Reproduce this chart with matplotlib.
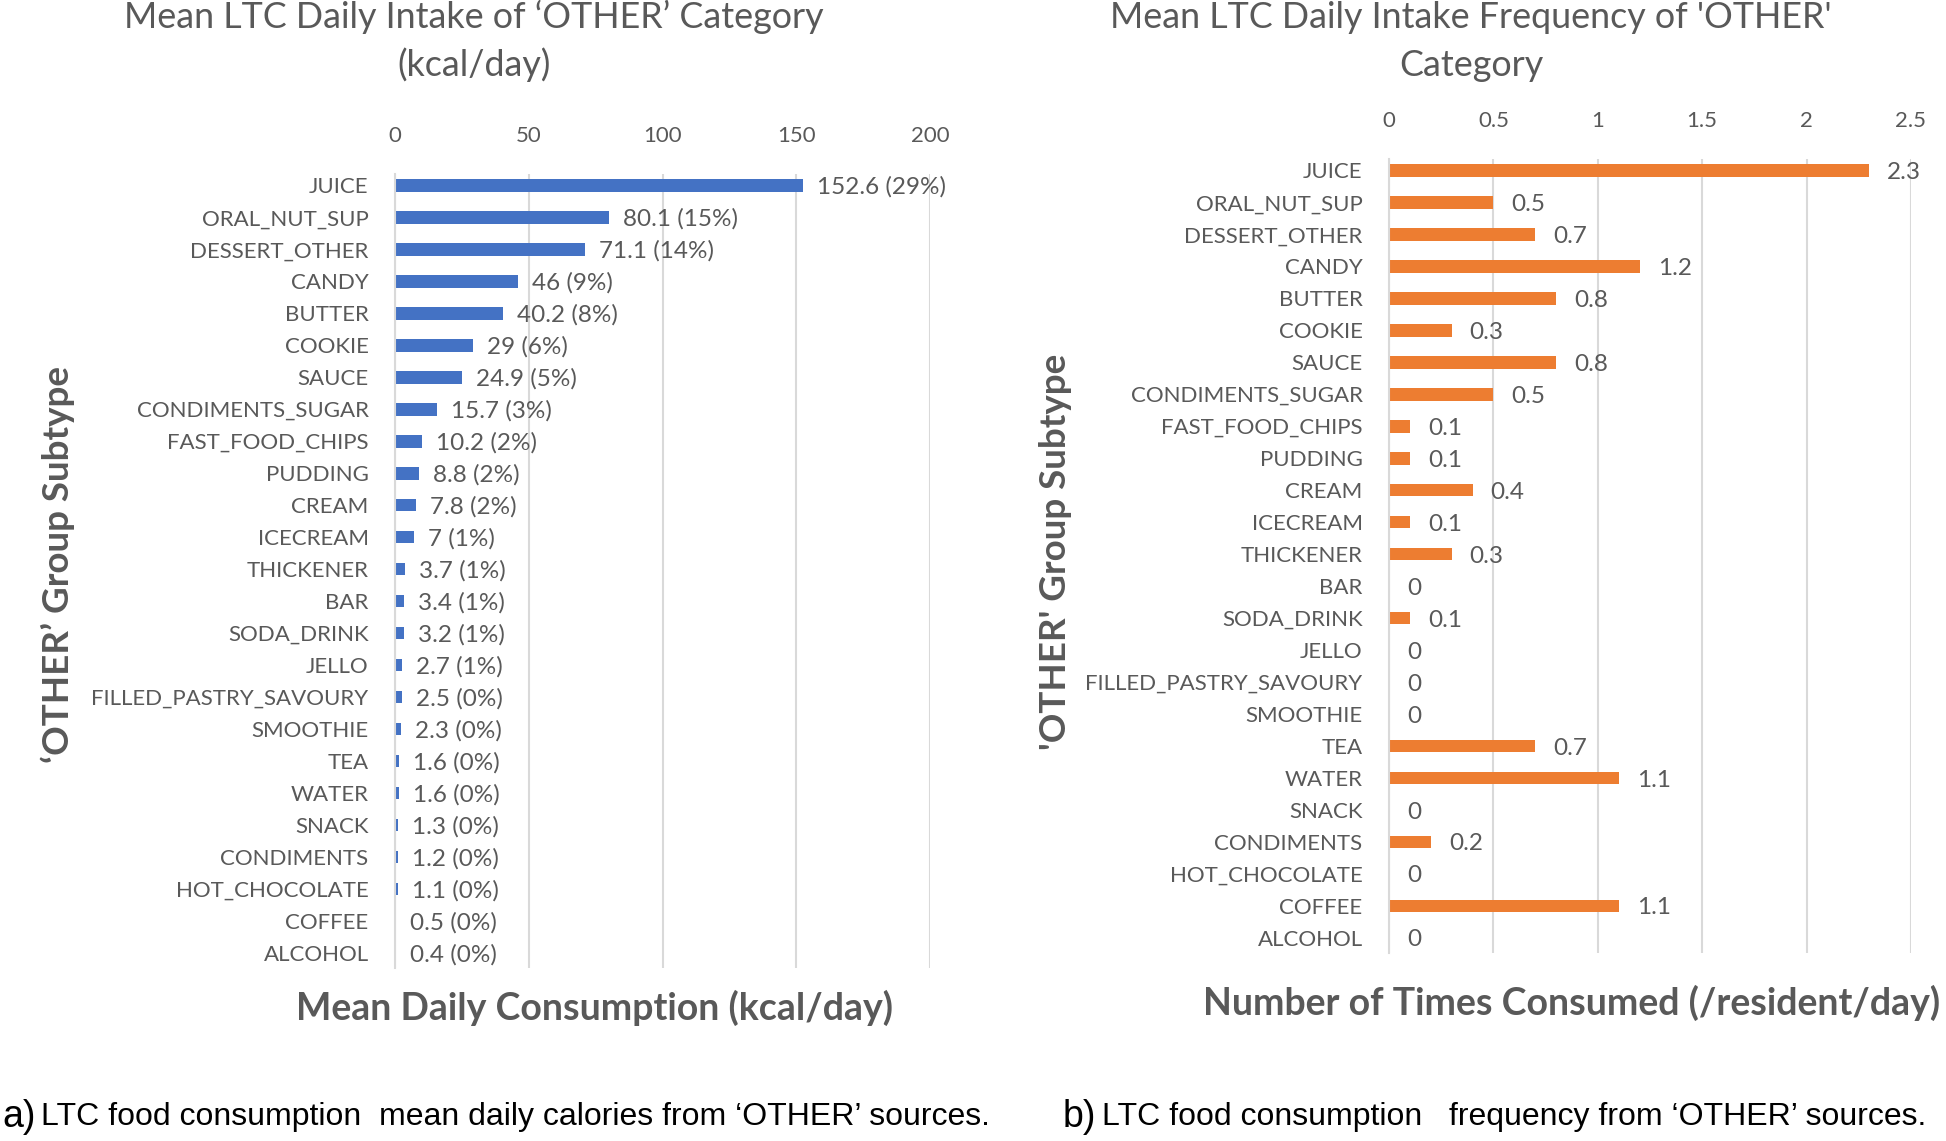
import matplotlib
matplotlib.use("Agg")
import matplotlib.pyplot as plt

# Categories (same order in both panels, top to bottom)
subtypes = ["JUICE", "ORAL_NUT_SUP", "DESSERT_OTHER", "CANDY", "BUTTER",
            "COOKIE", "SAUCE", "CONDIMENTS_SUGAR", "FAST_FOOD_CHIPS",
            "PUDDING", "CREAM", "ICECREAM", "THICKENER", "BAR", "SODA_DRINK",
            "JELLO", "FILLED_PASTRY_SAVOURY", "SMOOTHIE", "TEA", "WATER",
            "SNACK", "CONDIMENTS", "HOT_CHOCOLATE", "COFFEE", "ALCOHOL"]

# a) mean daily kcal and share of total
kcal = [152.6, 80.1, 71.1, 46, 40.2, 29, 24.9, 15.7, 10.2, 8.8, 7.8, 7,
        3.7, 3.4, 3.2, 2.7, 2.5, 2.3, 1.6, 1.6, 1.3, 1.2, 1.1, 0.5, 0.4]
kcal_pct = [29, 15, 14, 9, 8, 6, 5, 3, 2, 2, 2, 1, 1, 1, 1, 1,
            0, 0, 0, 0, 0, 0, 0, 0, 0]

# b) times consumed per resident per day
freq = [2.3, 0.5, 0.7, 1.2, 0.8, 0.3, 0.8, 0.5, 0.1, 0.1, 0.4, 0.1, 0.3,
        0, 0.1, 0, 0, 0, 0.7, 1.1, 0, 0.2, 0, 1.1, 0]

kcal_ticks = [0, 50, 100, 150, 200]
freq_ticks = [0, 0.5, 1, 1.5, 2, 2.5]
freq_ticklabels = ["0", "0.5", "1", "1.5", "2", "2.5"]

GRAY = "#595959"
GRID = "#D9D9D9"
BLUE = "#4472C4"
ORANGE = "#ED7D31"
FONT = "Lato"

W, H = 1946, 1141
fig = plt.figure(figsize=(W / 100, H / 100), dpi=100)
fig.patch.set_facecolor("white")


def px_axes(x0, x1, y0, y1):
    # pixel box (top-left origin) -> figure fraction
    return fig.add_axes([x0 / W, 1 - y1 / H, (x1 - x0) / W, (y1 - y0) / H])


def style_axes(ax, ticks, ticklabels, xmax):
    ax.set_xlim(0, xmax)
    ax.set_ylim(len(subtypes) - 0.53, -0.35)
    ax.set_yticks(range(len(subtypes)))
    ax.set_yticklabels(subtypes, fontsize=16, color=GRAY, fontfamily=FONT)
    ax.xaxis.tick_top()
    ax.set_xticks(ticks)
    ax.set_xticklabels(ticklabels, fontsize=16, color=GRAY, fontfamily=FONT)
    ax.tick_params(axis="both", length=0)
    ax.tick_params(axis="x", pad=20)
    ax.tick_params(axis="y", pad=19)
    ax.grid(axis="x", color=GRID, linewidth=1.5)
    ax.set_axisbelow(True)
    for s in ["top", "right", "bottom"]:
        ax.spines[s].set_visible(False)
    ax.spines["left"].set_color(GRID)
    ax.spines["left"].set_linewidth(1.5)


# ---- a) calories
ax1 = px_axes(395, 930, 174, 968)
ypos = list(range(len(subtypes)))
ax1.barh(ypos, kcal, height=0.4, color=BLUE)
style_axes(ax1, kcal_ticks, [str(t) for t in kcal_ticks], 200)
for y, v, p in zip(ypos, kcal, kcal_pct):
    ax1.annotate(f"{v:g} ({p}%)", (v, y), xytext=(14, -2),
                 textcoords="offset pixels", va="center", ha="left",
                 fontsize=17.5, color=GRAY, fontfamily=FONT)

# ---- b) frequency
ax2 = px_axes(1389, 1911, 159, 953)
ax2.barh(ypos, freq, height=0.4, color=ORANGE)
style_axes(ax2, freq_ticks, freq_ticklabels, 2.5)
for y, v in zip(ypos, freq):
    ax2.annotate(f"{v:g}", (v, y), xytext=(18, -2),
                 textcoords="offset pixels", va="center", ha="left",
                 fontsize=17.5, color=GRAY, fontfamily=FONT)

# titles
TS = 25.8
fig.text(474 / W, 1 - 17 / H, "Mean LTC Daily Intake of \u2018OTHER\u2019 Category",
         ha="center", va="center", fontsize=TS, color=GRAY, fontfamily=FONT)
fig.text(474 / W, 1 - 65 / H, "(kcal/day)",
         ha="center", va="center", fontsize=TS, color=GRAY, fontfamily=FONT)
fig.text(1471 / W, 1 - 17 / H, "Mean LTC Daily Intake Frequency of 'OTHER'",
         ha="center", va="center", fontsize=TS, color=GRAY, fontfamily=FONT)
fig.text(1471 / W, 1 - 65 / H, "Category",
         ha="center", va="center", fontsize=TS, color=GRAY, fontfamily=FONT)

# axis titles
fig.text(595 / W, 1 - 1008 / H, "Mean Daily Consumption (kcal/day)",
         ha="center", va="center", fontsize=27, fontweight="bold",
         color=GRAY, fontfamily=FONT)
fig.text(1572 / W, 1 - 1003 / H, "Number of Times Consumed (/resident/day)",
         ha="center", va="center", fontsize=27, fontweight="bold",
         color=GRAY, fontfamily=FONT)
fig.text(58 / W, 1 - 565 / H, "\u2018OTHER\u2019 Group Subtype", rotation=90,
         ha="center", va="center", fontsize=26.5, fontweight="bold",
         color=GRAY, fontfamily=FONT)
fig.text(1055 / W, 1 - 552 / H, "'OTHER' Group Subtype", rotation=90,
         ha="center", va="center", fontsize=26.5, fontweight="bold",
         color=GRAY, fontfamily=FONT)

# captions
CAP = ["Liberation Sans Narrow", "Liberation Sans", "DejaVu Sans"]
fig.text(2 / W, 1 - 1117 / H, "a)", ha="left", va="center", fontsize=27,
         family=CAP)
fig.text(41 / W, 1 - 1117 / H,
         "LTC food consumption  mean daily calories from \u2018OTHER\u2019 sources.",
         ha="left", va="center", fontsize=23, family=CAP)
fig.text(1063 / W, 1 - 1117 / H, "b)", ha="left", va="center", fontsize=27,
         family=CAP)
fig.text(1102 / W, 1 - 1117 / H,
         "LTC food consumption   frequency from \u2018OTHER\u2019 sources.",
         ha="left", va="center", fontsize=23, family=CAP)

fig.savefig("out.png", dpi=100, facecolor="white")
